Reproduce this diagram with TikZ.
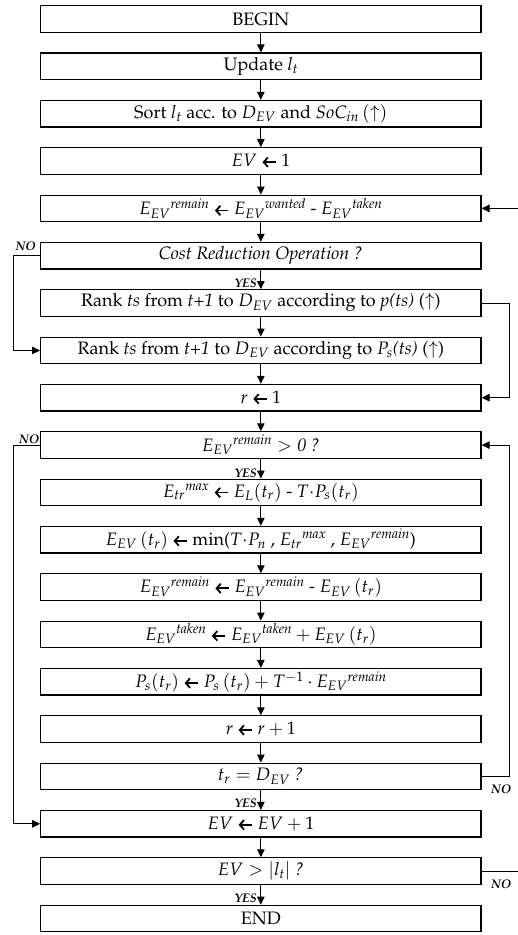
\documentclass[tikz,border=0pt]{standalone}
\usepackage[T1]{fontenc}
\usepackage{mathpazo}
\usetikzlibrary{arrows.meta}

% heavy assignment arrow used inside the boxes
\newcommand{\ga}{\tikz[baseline=-4.5pt]\draw[line width=1.8pt,line join=miter,{Straight Barb[length=4.2pt,width=9.5pt]}-] (0pt,0pt)--(13.5pt,0pt);}

\tikzset{
  box/.style={draw, line width=1.2pt, minimum width=440.3pt, minimum height=26.5pt,
              inner sep=0pt, font=\fontsize{18}{21}\selectfont},
  flow/.style={line width=1pt, -{Triangle[length=8pt,width=7.5pt]}},
  link/.style={line width=1pt},
  tag/.style={inner sep=0pt, font=\fontsize{12.5}{14}\selectfont\bfseries\itshape}
}

\begin{document}
\begin{tikzpicture}[x=1pt,y=-1pt]
  \useasboundingbox (0,0) rectangle (518,935);

  % process boxes, top to bottom
  \node[box] (b0)  at (260.85, 19.0) {BEGIN};
  \node[box] (b1)  at (260.85, 66.3) {Update $l_t$};
  \node[box] (b2)  at (260.85,113.7) {Sort $l_t$ acc. to $D_{EV}$ and $SoC_{in}\,(\uparrow)$};
  \node[box] (b3)  at (260.85,161.0) {$EV$ \ga\ 1};
  \node[box] (b4)  at (260.85,208.4) {$E_{EV}{}^{\mathit{remain}}$ \ga\ $E_{EV}{}^{\mathit{wanted}}$ - $E_{EV}{}^{\mathit{taken}}$};
  \node[box] (b5)  at (260.85,255.7) {\textit{Cost Reduction Operation ?}};
  \node[box] (b6)  at (260.85,303.0) {Rank \textit{ts} from \textit{t+1} to $D_{EV}$ according to \textit{p(ts)} ($\uparrow$)};
  \node[box] (b7)  at (260.85,350.4) {Rank \textit{ts} from \textit{t+1} to $D_{EV}$ according to $P_s$\textit{(ts)} ($\uparrow$)};
  \node[box] (b8)  at (260.85,397.7) {$r$ \ga\ 1};
  \node[box] (b9)  at (260.85,445.1) {$E_{EV}{}^{\mathit{remain}} > \mathit{0}$ \textit{?}};
  \node[box] (b10) at (260.85,492.4) {$E_{tr}{}^{\mathit{max}}$ \ga\ $E_L(t_r)$ - $T{\cdot}P_s(t_r)$};
  \node[box] (b11) at (260.85,539.7) {$E_{EV}\,(t_r)$ \ga\ min($T{\cdot}P_n$ , $E_{tr}{}^{\mathit{max}}$ , $E_{EV}{}^{\mathit{remain}}$)};
  \node[box] (b12) at (260.85,587.1) {$E_{EV}{}^{\mathit{remain}}$ \ga\ $E_{EV}{}^{\mathit{remain}}$ - $E_{EV}\,(t_r)$};
  \node[box] (b13) at (260.85,634.4) {$E_{EV}{}^{\mathit{taken}}$ \ga\ $E_{EV}{}^{\mathit{taken}} + E_{EV}\,(t_r)$};
  \node[box] (b14) at (260.85,681.8) {$P_s(t_r)$ \ga\ $P_s\,(t_r) + T^{-1}\cdot E_{EV}{}^{\mathit{remain}}$};
  \node[box] (b15) at (260.85,729.1) {$r$ \ga\ $r + 1$};
  \node[box] (b16) at (260.85,776.4) {$t_r = D_{EV}$ \textit{?}};
  \node[box] (b17) at (260.85,823.8) {$EV$ \ga\ $EV + 1$};
  \node[box] (b18) at (260.85,871.1) {$EV > |l_t|$ \textit{?}};
  \node[box] (b19) at (260.85,918.5) {END};

  % main downward flow
  \foreach \a/\b in {b0/b1,b1/b2,b2/b3,b3/b4,b4/b5,b5/b6,b6/b7,b7/b8,b8/b9,b9/b10,
                     b10/b11,b11/b12,b12/b13,b13/b14,b14/b15,b15/b16,b16/b17,b17/b18,b18/b19}
    \draw[flow] (\a.south) -- (\b.north);

  % branches
  \draw[flow] (b5.west) -- ++(-26.7,0) |- (b7.west);
  \draw[flow] (b6.east) -- ++(28,0) |- (b8.east);
  \draw[flow] (b9.west) -- ++(-26.7,0) |- (b17.west);
  \draw[flow] (b16.east) -- ++(28,0) |- (b9.east);

  % loop back to the next vehicle (runs off the right edge)
  \coordinate (outA) at (518,871.1);
  \coordinate (inA)  at (518,208.4);
  \draw[link] (b18.east) -- (outA);
  \draw[flow] (inA) -- (b4.east);

  % branch labels
  \node[tag, anchor=base east] (no1) at (36,250) {NO};
  \node[tag, anchor=base east] (no2) at (39.5,443.5) {NO};
  \node[tag, anchor=base west] (no3) at (491,793) {NO};
  \node[tag, anchor=base west] (no4) at (491,888) {NO};
  \node[tag, anchor=base east] (ye1) at (257,287) {YES};
  \node[tag, anchor=base east] (ye2) at (257,477) {YES};
  \node[tag, anchor=base east] (ye3) at (257,807) {YES};
  \node[tag, anchor=base east] (ye4) at (257,902) {YES};
\end{tikzpicture}
\end{document}
